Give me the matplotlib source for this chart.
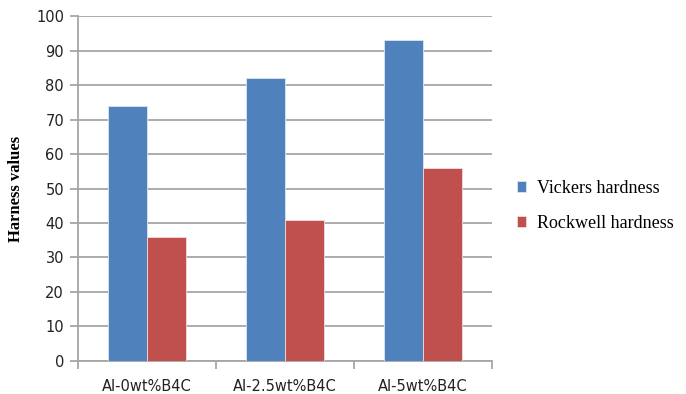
import numpy as np
import matplotlib.pyplot as plt

categories = ['Al-0wt%B4C', 'Al-2.5wt%B4C', 'Al-5wt%B4C']
vickers = [74, 82, 93]
rockwell = [36, 41, 56]

fig = plt.figure(figsize=(6.86, 3.94), dpi=100)
ax = fig.add_axes([0.1137, 0.0838, 0.6035, 0.8755])

x = np.arange(len(categories))
w = 0.283
ax.bar(x - w / 2, vickers, w, color='#4F81BD', edgecolor='#DCE6F2', linewidth=0.6,
       label='Vickers hardness', zorder=3)
ax.bar(x + w / 2, rockwell, w, color='#C0504D', edgecolor='#F2DCDB', linewidth=0.6,
       label='Rockwell hardness', zorder=3)

ax.set_xlim(-0.5, len(categories) - 0.5)
ax.set_ylim(0, 100)
ax.set_yticks(range(0, 101, 10))
ax.yaxis.grid(True, color='#A6A6A6', linewidth=1.3, zorder=0)

ax.set_xticks(x)
ax.set_xticklabels(categories)
ax.set_xticks(np.arange(-0.5, len(categories)), minor=True)
ax.tick_params(axis='x', which='major', length=0, pad=13)
ax.tick_params(axis='x', which='minor', length=6, color='#A6A6A6', width=1.3)
ax.tick_params(axis='y', length=6, color='#A6A6A6', width=1.3, pad=4)
for lab in ax.get_xticklabels() + ax.get_yticklabels():
    lab.set_fontsize(10.5)
    lab.set_color('#222222')

for side in ['top', 'right']:
    ax.spines[side].set_visible(False)
for side in ['left', 'bottom']:
    ax.spines[side].set_color('#A6A6A6')
    ax.spines[side].set_linewidth(1.3)

ax.set_ylabel('Harness values', family='Liberation Serif', fontweight='bold',
              fontsize=12, labelpad=9)

ax.legend(loc='center left', bbox_to_anchor=(1.02, 0.45), frameon=False,
          prop={'family': 'Liberation Serif', 'size': 13},
          handlelength=0.55, handleheight=0.55, handletextpad=0.6, labelspacing=1.0)

fig.savefig('out.png', dpi=100)
